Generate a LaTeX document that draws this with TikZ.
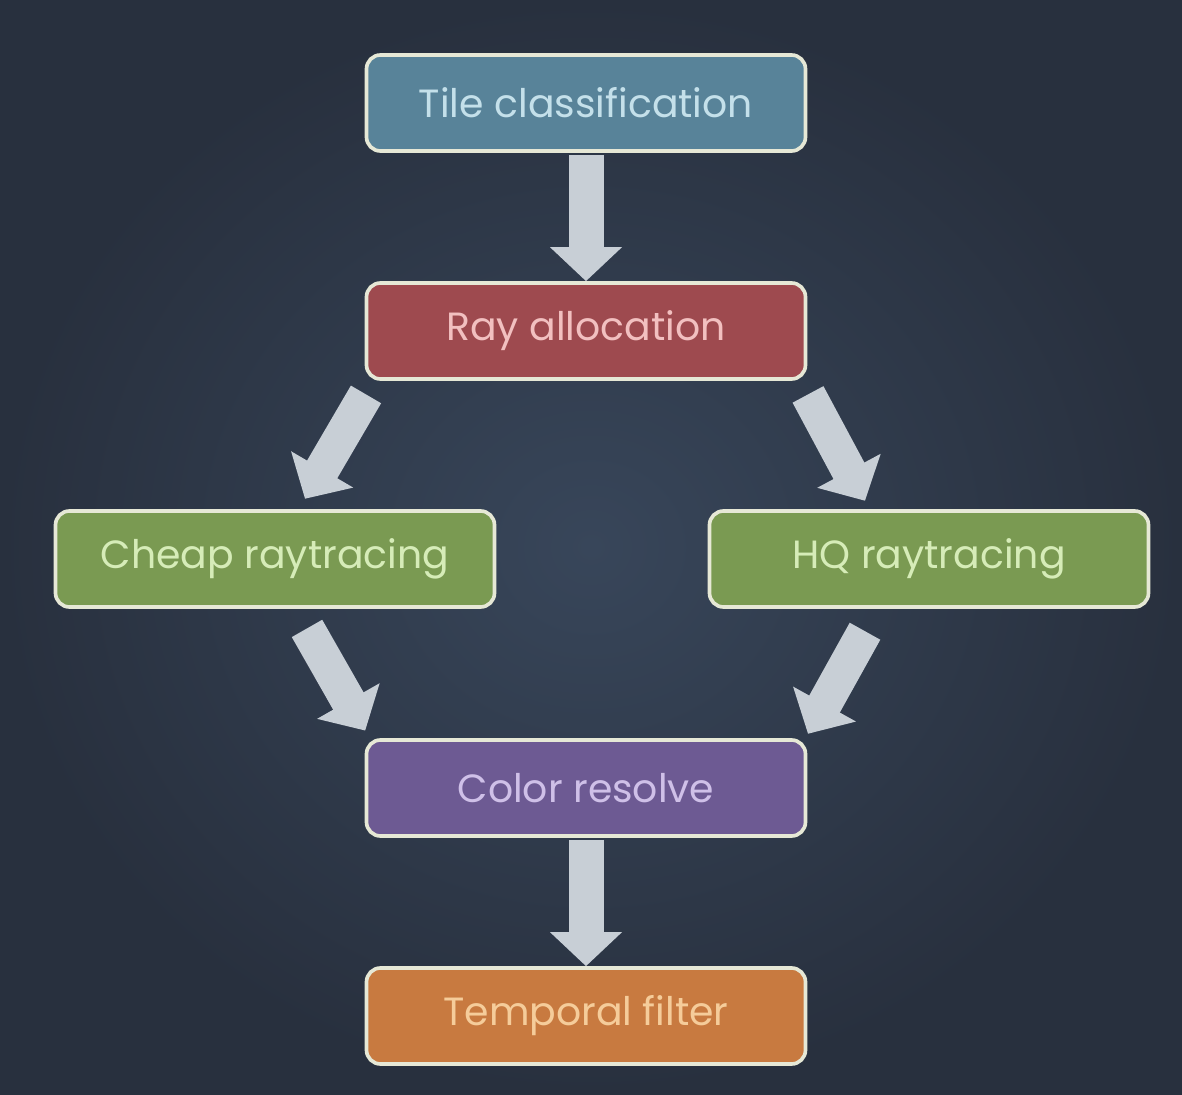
\documentclass[tikz,border=0pt]{standalone}
\usepackage{fontspec}
\setmainfont{Poppins}
\usetikzlibrary{arrows.meta}
\usetikzlibrary{positioning}
\definecolor{slate-bg}{RGB}{46, 58, 76}
\definecolor{slate-light}{RGB}{56, 70, 90}
\definecolor{slate-dark}{RGB}{40, 48, 62}
\definecolor{box-rim}{RGB}{230, 232, 214}
\definecolor{arrow-grey}{RGB}{200, 207, 214}
\definecolor{tile-blue}{RGB}{88, 131, 153}
\definecolor{tile-text}{RGB}{196, 224, 234}
\definecolor{ray-red}{RGB}{158, 74, 79}
\definecolor{ray-text}{RGB}{242, 192, 192}
\definecolor{trace-green}{RGB}{122, 154, 82}
\definecolor{trace-text}{RGB}{214, 236, 184}
\definecolor{resolve-purple}{RGB}{109, 90, 147}
\definecolor{resolve-text}{RGB}{207, 192, 232}
\definecolor{filter-orange}{RGB}{200, 122, 64}
\definecolor{filter-text}{RGB}{245, 204, 154}

\begin{document}
\begin{tikzpicture}[
        stage/.style={draw=box-rim, line width=2.6pt, rounded corners=0.35cm,
            minimum width=10.975cm, minimum height=2.4cm, font=\fontsize{28}{32}\selectfont},
        fat/.style={arrow-grey, line width=0.875cm, -{Triangle[length=0.85cm, width=1.75cm]}}
    ]
            \useasboundingbox (0, 0) rectangle (29.55, 27.35);
            \shade[inner color=slate-light, outer color=slate-dark] (0, 0) rectangle (29.55, 27.35);
            \node[stage, fill=tile-blue, text=tile-text] (tile) at (14.65, 24.775) {Tile classification};
            \node[stage, fill=ray-red, text=ray-text] (ray) at (14.65, 19.075) {Ray allocation};
            \node[stage, fill=trace-green, text=trace-text] (cheap) at (6.875, 13.375) {Cheap raytracing};
            \node[stage, fill=trace-green, text=trace-text] (hq) at (23.225, 13.375) {HQ raytracing};
            \node[stage, fill=resolve-purple, text=resolve-text] (resolve) at (14.65, 7.65) {Color resolve};
            \node[stage, fill=filter-orange, text=filter-text] (temporal) at (14.65, 1.95) {Temporal filter};
            \draw[fat] ([yshift=-0.05cm]tile.south) -- (ray.north);
            \draw[fat] ([xshift=-5.5cm, yshift=-0.34cm]ray.south) -- ([xshift=0.75cm, yshift=0.26cm]cheap.north);
            \draw[fat] ([xshift=5.55cm, yshift=-0.34cm]ray.south) -- ([xshift=-1.6cm, yshift=0.21cm]hq.north);
            \draw[fat] ([xshift=0.8cm, yshift=-0.49cm]cheap.south) -- ([xshift=-5.52cm, yshift=0.19cm]resolve.north);
            \draw[fat] ([xshift=-1.6cm, yshift=-0.56cm]hq.south) -- ([xshift=5.55cm, yshift=0.11cm]resolve.north);
            \draw[fat] ([yshift=-0.05cm]resolve.south) -- (temporal.north);
\end{tikzpicture}
\end{document}
